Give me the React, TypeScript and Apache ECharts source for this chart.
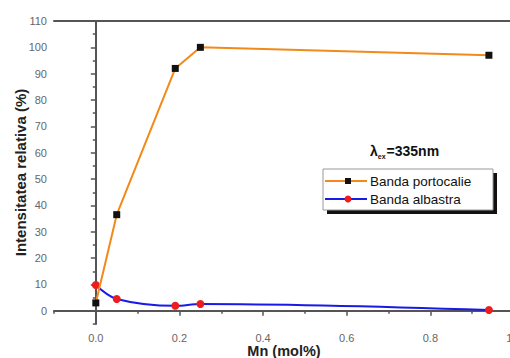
import React, { useEffect, useRef } from "react";
import * as echarts from "echarts";

const mnPortocalie = [0.0, 0.05, 0.19, 0.25, 0.94];
const valPortocalie = [3.0, 36.5, 92, 100, 97];
const mnAlbastra = [0.0, 0.05, 0.19, 0.25, 0.94];
const valAlbastra = [9.8, 4.5, 1.9, 2.6, 0.3];
const xLabelValues = [0, 0.2, 0.4, 0.6, 0.8, 1.0];
const xMinorValues = [-0.1, 0.1, 0.3, 0.5, 0.7, 0.9];
const yLabelValues = [0, 10, 20, 30, 40, 50, 60, 70, 80, 90, 100, 110];
const yMinorValues = [-5, 5, 15, 25, 35, 45, 55, 65, 75, 85, 95, 105];
const seriesNames = ["Banda portocalie", "Banda albastra"];

const FONT = "Liberation Sans, Arial, sans-serif";
const AXIS_COLOR = "#555";
const LABEL_COLOR = "#666";

export default function App() {
  const ref = useRef<HTMLDivElement>(null);
  useEffect(() => {
    if (!ref.current) return;
    const chart = echarts.init(ref.current, undefined, { renderer: "svg" });
    const ptsA = mnPortocalie.map((x, i) => [x, valPortocalie[i]]);
    const ptsB = mnAlbastra.map((x, i) => [x, valAlbastra[i]]);
    const common = { min: -0.1, max: 1.0, type: "value" as const };
    const ycommon = { min: -5, max: 110, type: "value" as const };
    chart.setOption({
      animation: false,
      grid: { left: 54, top: 21, right: 16, bottom: 34, containLabel: false, outerBoundsMode: "none" },
      xAxis: [
        {
          ...common,
          position: "bottom",
          name: "Mn (mol%)",
          nameLocation: "middle",
          nameGap: 19,
          nameMoveOverlap: false,
          nameTextStyle: { fontFamily: FONT, fontWeight: "bold", fontSize: 14.5, color: "#222" },
          axisLine: { show: true, lineStyle: { color: AXIS_COLOR, width: 2 } },
          axisTick: { show: true, length: 5, customValues: xLabelValues, lineStyle: { color: AXIS_COLOR, width: 1.5 } },
          axisLabel: {
            customValues: xLabelValues,
            formatter: (v: number) => v.toFixed(1),
            color: LABEL_COLOR,
            fontFamily: FONT,
            fontSize: 11,
            margin: 8,
          },
          splitLine: { show: false },
        },
        {
          ...common,
          position: "bottom",
          axisLine: { show: false },
          axisTick: { show: true, length: 3, customValues: xMinorValues, lineStyle: { color: AXIS_COLOR, width: 1.5 } },
          axisLabel: { show: false },
          splitLine: { show: false },
        },
        {
          ...common,
          position: "top",
          axisLine: { show: true, lineStyle: { color: AXIS_COLOR, width: 2 } },
          axisTick: { show: false },
          axisLabel: { show: false },
          splitLine: { show: false },
        },
      ],
      yAxis: [
        {
          ...ycommon,
          position: "left",
          name: "Intensitatea relativa (%)",
          nameLocation: "middle",
          nameGap: 26,
          nameMoveOverlap: false,
          nameTextStyle: { fontFamily: FONT, fontWeight: "bold", fontSize: 15, color: "#222" },
          axisLine: { show: true, lineStyle: { color: AXIS_COLOR, width: 2 } },
          axisTick: { show: true, length: 5, customValues: yLabelValues, lineStyle: { color: AXIS_COLOR, width: 1.5 } },
          axisLabel: {
            customValues: yLabelValues,
            color: LABEL_COLOR,
            fontFamily: FONT,
            fontSize: 11,
            margin: 7,
          },
          splitLine: { show: false },
        },
        {
          ...ycommon,
          position: "left",
          axisLine: { show: false },
          axisTick: { show: true, length: 3, customValues: yMinorValues, lineStyle: { color: AXIS_COLOR, width: 1.5 } },
          axisLabel: { show: false },
          splitLine: { show: false },
        },
      ],
      series: [
        {
          name: seriesNames[1],
          type: "line",
          data: ptsB,
          smooth: 0.35,
          symbol: "circle",
          symbolSize: 8,
          itemStyle: { color: "#ee1c1c" },
          lineStyle: { color: "#1a1ae6", width: 2 },
          z: 2,
        },
        {
          name: seriesNames[0],
          type: "line",
          data: ptsA,
          symbol: "rect",
          symbolSize: 7,
          itemStyle: { color: "#111" },
          lineStyle: { color: "#f28a1a", width: 2 },
          z: 3,
        },
      ],
      graphic: [
        {
          type: "text",
          left: 370,
          top: 144,
          style: {
            text: "λ{sub|ex}=335nm",
            fontFamily: FONT,
            fontWeight: "bold",
            fontSize: 14,
            fill: "#111",
            rich: {
              sub: { fontSize: 7, fontWeight: "bold", fill: "#111", padding: [10, 1, 0, 0] },
            },
          },
        },
        { type: "rect", shape: { x: 327, y: 173, width: 170, height: 41 }, style: { fill: "#111" } },
        { type: "rect", shape: { x: 323, y: 169, width: 170, height: 41 }, style: { fill: "#fff", stroke: "#999", lineWidth: 1 } },
        { type: "line", shape: { x1: 325, y1: 181, x2: 367, y2: 181 }, style: { stroke: "#f28a1a", lineWidth: 2 } },
        { type: "rect", shape: { x: 345, y: 178, width: 6, height: 6 }, style: { fill: "#111" } },
        { type: "line", shape: { x1: 325, y1: 199, x2: 367, y2: 199 }, style: { stroke: "#1a1ae6", lineWidth: 2 } },
        { type: "circle", shape: { cx: 348, cy: 199, r: 3.5 }, style: { fill: "#ee1c1c" } },
        {
          type: "text",
          x: 370,
          y: 181,
          style: { text: seriesNames[0], fontFamily: FONT, fontSize: 13.5, fill: "#111", verticalAlign: "middle" },
        },
        {
          type: "text",
          x: 370,
          y: 199,
          style: { text: seriesNames[1], fontFamily: FONT, fontSize: 13.5, fill: "#111", verticalAlign: "middle" },
        },
      ],
    });
    return () => chart.dispose();
  }, []);
  return (
    <div style={{ position: "fixed", left: 0, top: 0, width: 510, height: 358, overflow: "hidden", background: "#fff" }}>
      <div ref={ref} style={{ width: 530, height: 358 }} />
    </div>
  );
}
